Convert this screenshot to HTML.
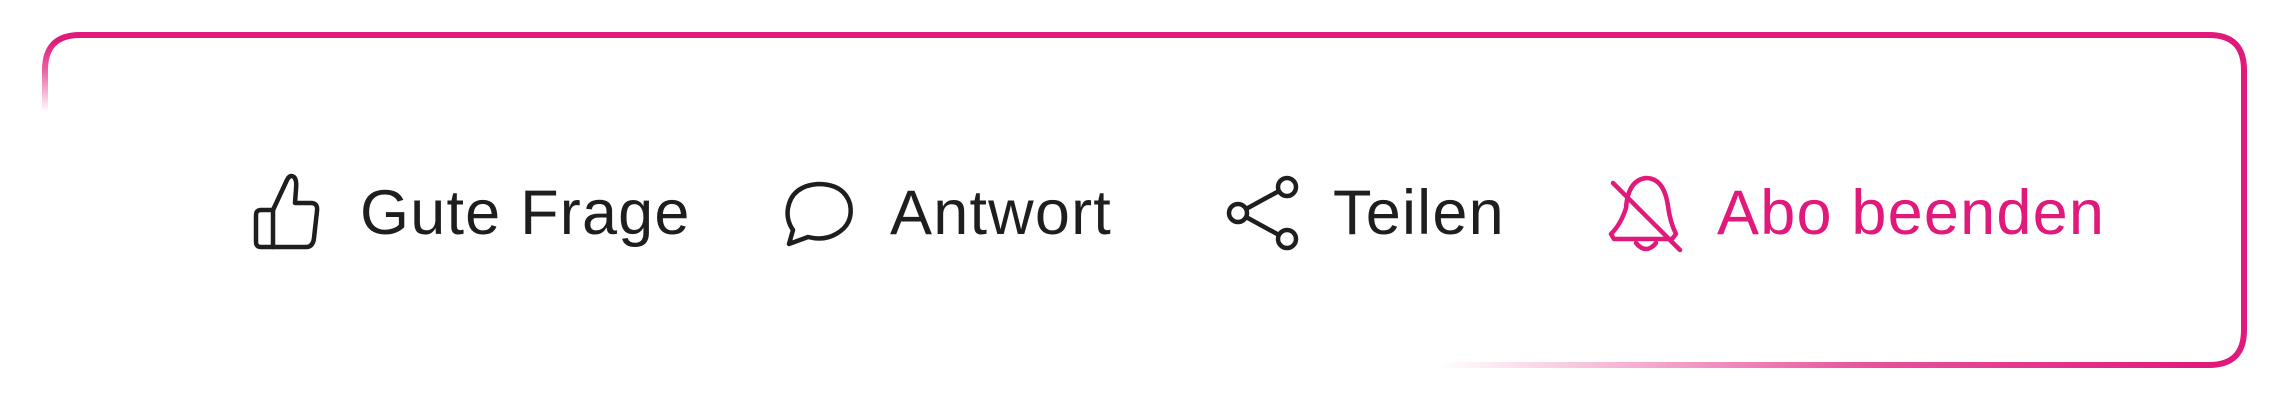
<!DOCTYPE html>
<html><head><meta charset="utf-8"><style>
html,body{margin:0;padding:0;background:#fff;width:2280px;height:406px;overflow:hidden}
.t{position:absolute;font-family:"Liberation Sans",sans-serif;font-size:63px;line-height:63px;top:182px;color:#1e1e1e;white-space:nowrap;letter-spacing:1.2px}
</style></head><body>
<svg width="2280" height="406" style="position:absolute;left:0;top:0">
<defs>
<linearGradient id="lv" x1="0" y1="112" x2="0" y2="40" gradientUnits="userSpaceOnUse">
<stop offset="0" stop-color="#e0197b" stop-opacity="0"/><stop offset="0.6" stop-color="#e0197b" stop-opacity="0.7"/><stop offset="1" stop-color="#e0197b"/></linearGradient>
<linearGradient id="bh" x1="2212" y1="0" x2="1440" y2="0" gradientUnits="userSpaceOnUse">
<stop offset="0" stop-color="#e0197b"/><stop offset="0.45" stop-color="#e0197b" stop-opacity="0.75"/><stop offset="1" stop-color="#e0197b" stop-opacity="0"/></linearGradient>
</defs>
<g fill="none" stroke-width="6">
<path d="M45 115 L45 70 Q45 35 80 35 L105 35" stroke="url(#lv)"/>
<path d="M100 35 L2209 35 Q2244 35 2244 70 L2244 330 Q2244 365 2209 365 L2205 365" stroke="#e0197b"/>
<path d="M2207 365 L1440 365" stroke="url(#bh)"/>
</g>
<g fill="none" stroke="#1e1e1e" stroke-width="4.5" stroke-linejoin="round" stroke-linecap="round">
<path d="M256 215 q0-5 5-5 h12 v37 h-12 q-5 0-5-5 z"/>
<path d="M273 210 l14-30 q3-6 7-3 q3 3 2 12 l-1 14 h16 q7 0 6 8 l-3 27 q-1 9-8 9 h-33"/>
</g>
<g fill="none" stroke="#1e1e1e" stroke-width="4.5" stroke-linejoin="round" stroke-linecap="round">
<path d="M789 244 l4-14 q-7-10-5-22 q4-22 30-24 q26 0 32 20 q4 20-14 30 q-12 7-28 3 z"/>
</g>
<g fill="none" stroke="#1e1e1e" stroke-width="4.5">
<circle cx="1238" cy="213" r="9"/><circle cx="1287" cy="187" r="9"/><circle cx="1287" cy="239" r="9"/>
<path d="M1246 209 L1279 191 M1246 217 L1279 235"/>
</g>
<g fill="none" stroke="#e0197b" stroke-width="4.5" stroke-linecap="round" stroke-linejoin="round">
<path d="M1626 208 q2-28 20-30 q18 0 22 28 q2 16 8 28 l-4 5 h-58 l-3-5 q10-10 15-26"/>
<path d="M1636 243 q10 12 20 0"/>
<path d="M1613 183 L1680 250"/>
</g>
</svg>
<div class="t" style="left:360px">Gute Frage</div>
<div class="t" style="left:890px">Antwort</div>
<div class="t" style="left:1333px">Teilen</div>
<div class="t" style="left:1717px;color:#e0197b">Abo beenden</div>
</body></html>
